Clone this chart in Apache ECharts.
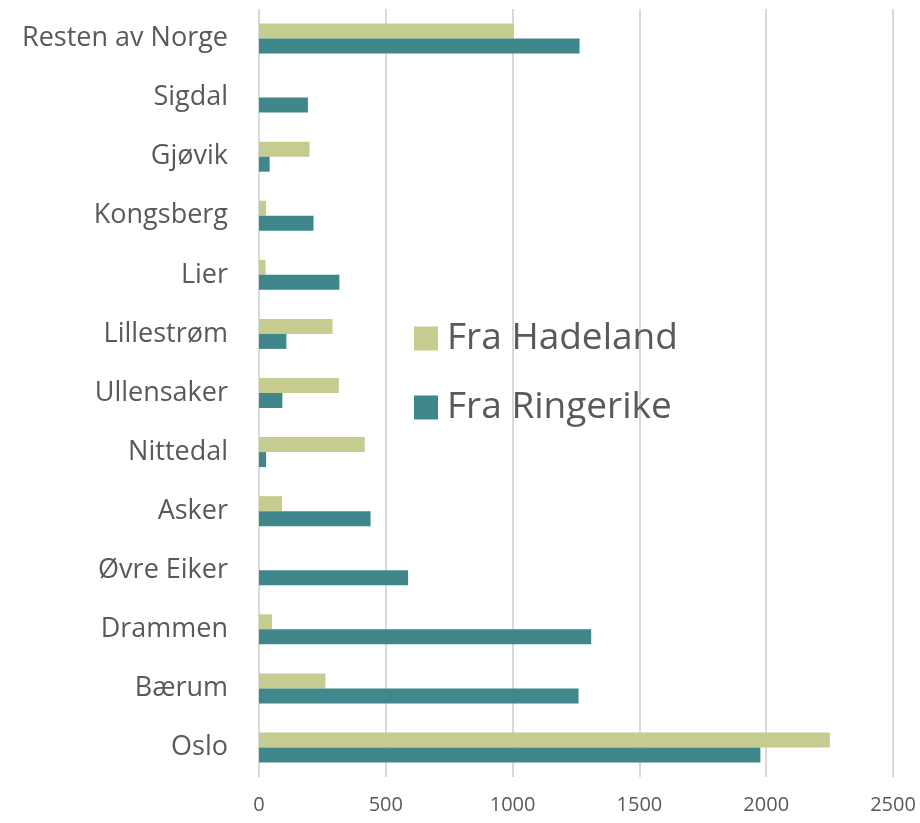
<!DOCTYPE html>
<html>
<head>
<meta charset="utf-8">
<script src="https://cdn.jsdelivr.net/npm/echarts@6/dist/echarts.min.js"></script>
<style>
  html, body { margin: 0; padding: 0; background: #fff; }
  #chart { width: 920px; height: 823px; }
</style>
</head>
<body>
<div id="chart"></div>
<script>
// bottom to top, as in the picture
const places = ["Oslo", "Bærum", "Drammen", "Øvre Eiker", "Asker", "Nittedal", "Ullensaker",
  "Lillestrøm", "Lier", "Kongsberg", "Gjøvik", "Sigdal", "Resten av Norge"];
const fraHadeland = [2251, 262, 51, 0, 91, 417, 315, 290, 26, 28, 199, 0, 1005];
const fraRingerike = [1977, 1260, 1310, 588, 440, 28, 92, 108, 317, 215, 42, 193, 1264];
const xTicks = [0, 500, 1000, 1500, 2000, 2500];

const chart = echarts.init(document.getElementById("chart"));
const txt = "#595959";
const font = "'Open Sans', 'Noto Sans', sans-serif";

chart.setOption({
  animation: false,
  textStyle: { fontFamily: font },
  legend: {
    data: ["Fra Hadeland", "Fra Ringerike"],
    orient: "vertical",
    left: 409,
    top: 315,
    itemWidth: 24,
    itemHeight: 24,
    itemGap: 32,
    icon: "rect",
    textStyle: { fontSize: 37, color: txt, fontFamily: font, padding: [0, 0, 0, 4] },
  },
  grid: { left: 259, right: 27, top: 9, bottom: 46 },
  xAxis: {
    type: "value",
    min: xTicks[0],
    max: xTicks[xTicks.length - 1],
    interval: 500,
    axisLine: { show: false },
    axisTick: { show: false },
    axisLabel: { fontSize: 20, color: txt, margin: 18, fontFamily: font, formatter: (v) => String(v) },
    splitLine: { lineStyle: { color: "#d9d9d9", width: 2 } },
  },
  yAxis: {
    type: "category",
    data: places,
    axisLine: { show: false },
    axisTick: { show: false },
    axisLabel: { fontSize: 27, color: txt, margin: 31, fontFamily: font },
  },
  series: [
    {
      name: "Fra Hadeland",
      type: "bar",
      data: fraHadeland,
      barWidth: 15,
      barGap: "0%",
      itemStyle: { color: "#c6cc8f" },
    },
    {
      name: "Fra Ringerike",
      type: "bar",
      data: fraRingerike,
      barWidth: 15,
      barGap: "0%",
      itemStyle: { color: "#40878b" },
    },
  ],
});
</script>
</body>
</html>
